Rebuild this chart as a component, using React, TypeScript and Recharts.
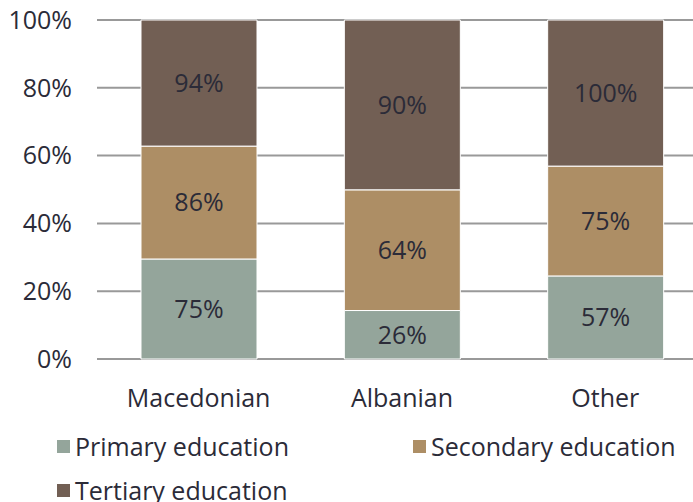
import React from "react";
import { BarChart, Bar, XAxis, YAxis, CartesianGrid, LabelList } from "recharts";

const categories = ["Macedonian", "Albanian", "Other"];
const primary = [29.5, 14.3, 24.5];
const secondary = [33.3, 35.6, 32.4];
const tertiary = [37.2, 50.1, 43.1];
const primaryLabels = ["75%", "26%", "57%"];
const secondaryLabels = ["86%", "64%", "75%"];
const tertiaryLabels = ["94%", "90%", "100%"];
const yTicks = [0, 20, 40, 60, 80, 100];

const series = [
  { key: "primary", name: "Primary education", color: "#94a59b" },
  { key: "secondary", name: "Secondary education", color: "#ad8e65" },
  { key: "tertiary", name: "Tertiary education", color: "#725f54" }
];

const data = categories.map((c, i) => ({
  name: c,
  primary: primary[i],
  secondary: secondary[i],
  tertiary: tertiary[i],
  primaryLabel: primaryLabels[i],
  secondaryLabel: secondaryLabels[i],
  tertiaryLabel: tertiaryLabels[i]
}));

const FONT = "'Open Sans', sans-serif";
const TEXT = "#2b2b38";

export default function App() {
  return (
    <div
      style={{
        position: "absolute",
        left: 0,
        top: 0,
        width: 693,
        height: 502,
        overflow: "hidden",
        background: "#fff",
        fontFamily: FONT
      }}
    >
      <BarChart
        width={707}
        height={502}
        data={data}
        margin={{ top: 20, right: 0, left: 0, bottom: 93 }}
        barSize={116}
      >
        <CartesianGrid vertical={false} stroke="#999" strokeWidth={2} />
        <XAxis
          dataKey="name"
          axisLine={false}
          tickLine={false}
          tickSize={0}
          tickMargin={30}
          height={50}
          tick={{ fontSize: 25, fill: TEXT, fontFamily: FONT }}
        />
        <YAxis
          domain={[0, 100]}
          ticks={yTicks}
          tickFormatter={(v: number) => v + "%"}
          axisLine={false}
          tickLine={false}
          tickSize={0}
          tickMargin={25}
          width={97}
          tick={{ fontSize: 25, fill: TEXT, fontFamily: FONT }}
        />
        {series.map((s) => (
          <Bar
            key={s.key}
            dataKey={s.key}
            stackId="a"
            fill={s.color}
            stroke="#fff"
            strokeWidth={1}
            isAnimationActive={false}
          >
            <LabelList
              dataKey={s.key + "Label"}
              position="center"
              style={{ fontSize: 25, fill: TEXT, fontFamily: FONT }}
            />
          </Bar>
        ))}
      </BarChart>
      <div
        style={{
          position: "absolute",
          left: 57,
          top: 424,
          width: 720,
          display: "flex",
          flexWrap: "wrap",
          fontSize: 25,
          color: TEXT,
          lineHeight: "44px",
          whiteSpace: "nowrap"
        }}
      >
        {series.map((s) => (
          <div key={s.key} style={{ width: 356, display: "flex", alignItems: "center" }}>
            <span
              style={{
                display: "inline-block",
                width: 13,
                height: 13,
                background: s.color,
                marginRight: 5
              }}
            />
            <span>{s.name}</span>
          </div>
        ))}
      </div>
    </div>
  );
}
